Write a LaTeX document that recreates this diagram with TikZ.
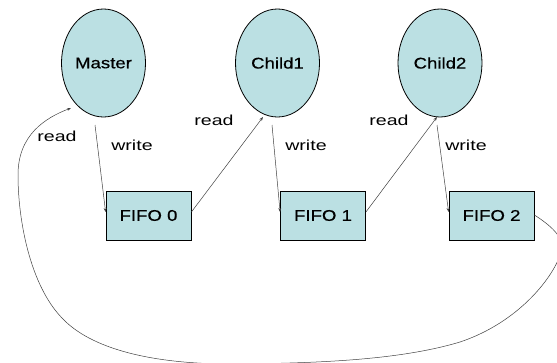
\documentclass[tikz,border=0pt]{standalone}
\usepackage{fontspec}
\setmainfont{Liberation Sans}
\newfontfamily\nodefont[FakeStretch=1.2,FakeBold=0.5]{Liberation Sans}
\newfontfamily\labfont[FakeStretch=1.35]{Liberation Sans}
\usetikzlibrary{shapes.geometric,arrows.meta}
\definecolor{boxfill}{HTML}{BBE0E3}
\definecolor{linecol}{HTML}{404040}
\tikzset{
  proc/.style={ellipse,draw=black,line width=0.8pt,fill=boxfill,minimum width=84pt,minimum height=108pt,inner sep=0pt,font=\nodefont\fontsize{15.5}{18}\selectfont},
  fifo/.style={rectangle,draw=black,line width=0.8pt,fill=boxfill,minimum width=85pt,minimum height=49pt,inner sep=0pt,font=\nodefont\fontsize{15.5}{18}\selectfont},
  lab/.style={font=\labfont\fontsize{14.5}{16}\selectfont,inner sep=0pt},
  conn/.style={draw=linecol,line width=0.5pt,-{Stealth[length=4pt,width=3pt]}}
}
\begin{document}
\begin{tikzpicture}[x=1pt,y=-1pt]
\useasboundingbox (0,0) rectangle (557,362);
\clip (0,0) rectangle (557,362);
\node[proc] (m) at (103.5,63) {Master};
\node[proc] (c1) at (277.5,63) {Child1};
\node[proc] (c2) at (440,63) {Child2};
\node[fifo] (f0) at (148.5,215.5) {FIFO 0};
\node[fifo] (f1) at (323,215.5) {FIFO 1};
\node[fifo] (f2) at (491.5,215.5) {FIFO 2};
\node[lab] (r0) at (57,136) {read};
\node[lab] (w0) at (132,145) {write};
\node[lab] (r1) at (214,120) {read};
\node[lab] (w1) at (306,145) {write};
\node[lab] (r2) at (389,120) {read};
\node[lab] (w2) at (466,145) {write};
\coordinate (ws0) at (95,125);
\coordinate (ws1) at (272,125);
\coordinate (ws2) at (437,125);
\coordinate (t0) at (71,108);
\coordinate (t1) at (263,117);
\coordinate (t2) at (437,117);
\draw[conn] (ws0) -- (f0.west |- 0,212);
\draw[conn] (ws1) -- (f1.west |- 0,212);
\draw[conn] (ws2) -- (f2.west |- 0,212);
\draw[conn] (f0.east |- 0,212) -- (t1);
\draw[conn] (f1.east |- 0,212) -- (t2);
\draw[conn] (f2.east |- 0,215) .. controls (550,225) and (566,238) .. (561,252)
  .. controls (555,275) and (520,322) .. (460,342)
  .. controls (400,360) and (320,363) .. (240,364)
  .. controls (150,365) and (90,348) .. (62,318)
  .. controls (30,285) and (18,220) .. (18,175)
  .. controls (18,135) and (45,118) .. (t0);
\end{tikzpicture}
\end{document}
